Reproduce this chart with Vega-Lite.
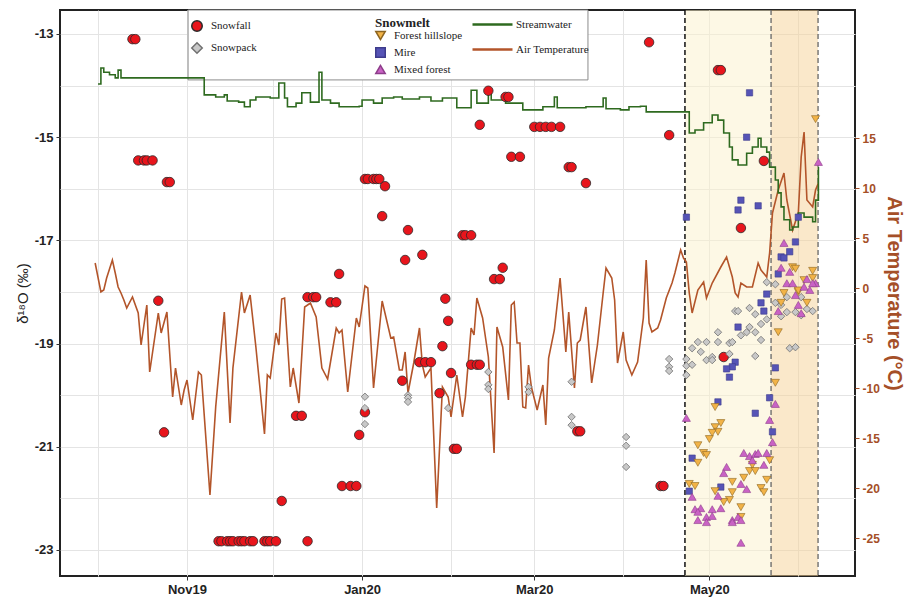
{
"$schema": "https://vega.github.io/schema/vega-lite/v6.json",
"width": 795, "height": 566,
"autosize": {"type": "none"},
"padding": {"left": 60, "top": 10, "right": 56, "bottom": 22},
"background": "white",
"config": {"font": "Liberation Sans", "view": {"stroke": "#222", "strokeWidth": 2}},
"datasets": {
"snow": [
{"d":"2019-10-13","v":-13.1,"type":"Snowfall"},{"d":"2019-10-14","v":-13.1,"type":"Snowfall"},
{"d":"2019-10-15","v":-15.45,"type":"Snowfall"},{"d":"2019-10-17","v":-15.45,"type":"Snowfall"},{"d":"2019-10-18","v":-15.45,"type":"Snowfall"},{"d":"2019-10-20","v":-15.45,"type":"Snowfall"},
{"d":"2019-10-22","v":-18.17,"type":"Snowfall"},{"d":"2019-10-24","v":-20.72,"type":"Snowfall"},
{"d":"2019-10-25","v":-15.87,"type":"Snowfall"},{"d":"2019-10-26","v":-15.87,"type":"Snowfall"},
{"d":"2019-11-12","v":-22.83,"type":"Snowfall"},{"d":"2019-11-13","v":-22.83,"type":"Snowfall"},{"d":"2019-11-15","v":-22.83,"type":"Snowfall"},{"d":"2019-11-16","v":-22.83,"type":"Snowfall"},{"d":"2019-11-17","v":-22.83,"type":"Snowfall"},{"d":"2019-11-19","v":-22.83,"type":"Snowfall"},{"d":"2019-11-20","v":-22.83,"type":"Snowfall"},{"d":"2019-11-21","v":-22.83,"type":"Snowfall"},{"d":"2019-11-23","v":-22.83,"type":"Snowfall"},{"d":"2019-11-24","v":-22.83,"type":"Snowfall"},{"d":"2019-11-28","v":-22.83,"type":"Snowfall"},{"d":"2019-11-29","v":-22.83,"type":"Snowfall"},{"d":"2019-11-30","v":-22.83,"type":"Snowfall"},{"d":"2019-12-02","v":-22.83,"type":"Snowfall"},{"d":"2019-12-13","v":-22.83,"type":"Snowfall"},
{"d":"2019-12-04","v":-22.05,"type":"Snowfall"},
{"d":"2019-12-09","v":-20.4,"type":"Snowfall"},{"d":"2019-12-11","v":-20.4,"type":"Snowfall"},
{"d":"2019-12-13","v":-18.1,"type":"Snowfall"},{"d":"2019-12-15","v":-18.1,"type":"Snowfall"},{"d":"2019-12-16","v":-18.1,"type":"Snowfall"},
{"d":"2019-12-21","v":-18.2,"type":"Snowfall"},{"d":"2019-12-23","v":-18.2,"type":"Snowfall"},
{"d":"2019-12-24","v":-17.65,"type":"Snowfall"},
{"d":"2019-12-25","v":-21.76,"type":"Snowfall"},{"d":"2019-12-28","v":-21.76,"type":"Snowfall"},{"d":"2019-12-30","v":-21.76,"type":"Snowfall"},
{"d":"2019-12-31","v":-20.77,"type":"Snowfall"},{"d":"2020-01-02","v":-20.33,"type":"Snowfall"},
{"d":"2020-01-02","v":-15.81,"type":"Snowfall"},{"d":"2020-01-03","v":-15.81,"type":"Snowfall"},{"d":"2020-01-05","v":-15.81,"type":"Snowfall"},{"d":"2020-01-06","v":-15.81,"type":"Snowfall"},{"d":"2020-01-07","v":-15.81,"type":"Snowfall"},
{"d":"2020-01-09","v":-15.95,"type":"Snowfall"},{"d":"2020-01-08","v":-16.53,"type":"Snowfall"},
{"d":"2020-01-15","v":-19.72,"type":"Snowfall"},{"d":"2020-01-16","v":-17.38,"type":"Snowfall"},{"d":"2020-01-17","v":-16.8,"type":"Snowfall"},
{"d":"2020-01-21","v":-19.36,"type":"Snowfall"},{"d":"2020-01-22","v":-17.28,"type":"Snowfall"},{"d":"2020-01-23","v":-19.36,"type":"Snowfall"},{"d":"2020-01-25","v":-19.36,"type":"Snowfall"},
{"d":"2020-01-28","v":-19.96,"type":"Snowfall"},{"d":"2020-01-29","v":-19.05,"type":"Snowfall"},{"d":"2020-01-30","v":-18.13,"type":"Snowfall"},{"d":"2020-01-31","v":-18.56,"type":"Snowfall"},
{"d":"2020-02-01","v":-19.57,"type":"Snowfall"},{"d":"2020-02-02","v":-21.04,"type":"Snowfall"},{"d":"2020-02-03","v":-21.04,"type":"Snowfall"},
{"d":"2020-02-05","v":-16.9,"type":"Snowfall"},{"d":"2020-02-06","v":-16.9,"type":"Snowfall"},{"d":"2020-02-08","v":-16.9,"type":"Snowfall"},
{"d":"2020-02-08","v":-19.41,"type":"Snowfall"},{"d":"2020-02-10","v":-19.41,"type":"Snowfall"},{"d":"2020-02-11","v":-19.41,"type":"Snowfall"},
{"d":"2020-02-11","v":-14.76,"type":"Snowfall"},{"d":"2020-02-14","v":-14.1,"type":"Snowfall"},
{"d":"2020-02-16","v":-17.75,"type":"Snowfall"},{"d":"2020-02-18","v":-17.75,"type":"Snowfall"},{"d":"2020-02-19","v":-17.53,"type":"Snowfall"},
{"d":"2020-02-20","v":-14.22,"type":"Snowfall"},{"d":"2020-02-21","v":-14.22,"type":"Snowfall"},
{"d":"2020-02-22","v":-15.38,"type":"Snowfall"},{"d":"2020-02-25","v":-15.38,"type":"Snowfall"},
{"d":"2020-03-01","v":-14.8,"type":"Snowfall"},{"d":"2020-03-03","v":-14.8,"type":"Snowfall"},{"d":"2020-03-05","v":-14.8,"type":"Snowfall"},{"d":"2020-03-07","v":-14.8,"type":"Snowfall"},{"d":"2020-03-10","v":-14.8,"type":"Snowfall"},
{"d":"2020-03-13","v":-15.58,"type":"Snowfall"},{"d":"2020-03-14","v":-15.58,"type":"Snowfall"},
{"d":"2020-03-16","v":-20.7,"type":"Snowfall"},{"d":"2020-03-17","v":-20.7,"type":"Snowfall"},
{"d":"2020-03-19","v":-15.89,"type":"Snowfall"},{"d":"2020-04-10","v":-13.16,"type":"Snowfall"},
{"d":"2020-04-14","v":-21.76,"type":"Snowfall"},{"d":"2020-04-15","v":-21.76,"type":"Snowfall"},
{"d":"2020-04-17","v":-14.96,"type":"Snowfall"},
{"d":"2020-05-04","v":-13.7,"type":"Snowfall"},{"d":"2020-05-05","v":-13.7,"type":"Snowfall"},
{"d":"2020-05-06","v":-19.26,"type":"Snowfall"},{"d":"2020-05-12","v":-16.76,"type":"Snowfall"},{"d":"2020-05-20","v":-15.46,"type":"Snowfall"},
{"d":"2020-01-02","v":-20.03,"type":"Snowpack"},{"d":"2020-01-02","v":-20.25,"type":"Snowpack"},{"d":"2020-01-02","v":-20.56,"type":"Snowpack"},
{"d":"2020-01-17","v":-20.0,"type":"Snowpack"},{"d":"2020-01-17","v":-20.05,"type":"Snowpack"},{"d":"2020-01-17","v":-20.13,"type":"Snowpack"},
{"d":"2020-01-31","v":-20.25,"type":"Snowpack"},
{"d":"2020-02-14","v":-19.55,"type":"Snowpack"},{"d":"2020-02-14","v":-19.8,"type":"Snowpack"},{"d":"2020-02-14","v":-19.88,"type":"Snowpack"},
{"d":"2020-02-28","v":-19.84,"type":"Snowpack"},{"d":"2020-02-28","v":-19.94,"type":"Snowpack"},
{"d":"2020-03-14","v":-19.74,"type":"Snowpack"},{"d":"2020-03-14","v":-20.42,"type":"Snowpack"},{"d":"2020-03-14","v":-20.58,"type":"Snowpack"},
{"d":"2020-04-02","v":-20.81,"type":"Snowpack"},{"d":"2020-04-02","v":-20.98,"type":"Snowpack"},{"d":"2020-04-02","v":-21.39,"type":"Snowpack"},
{"d":"2020-04-17","v":-19.3,"type":"Snowpack"},{"d":"2020-04-17","v":-19.45,"type":"Snowpack"},{"d":"2020-04-17","v":-19.53,"type":"Snowpack"},
{"d":"2020-04-23","v":-19.3,"type":"Snowpack"},{"d":"2020-04-23","v":-19.43,"type":"Snowpack"},{"d":"2020-04-23","v":-19.61,"type":"Snowpack"},
{"d":"2020-04-25","v":-19.41,"type":"Snowpack"},{"d":"2020-04-25","v":-19.09,"type":"Snowpack"},{"d":"2020-04-27","v":-18.97,"type":"Snowpack"},{"d":"2020-04-28","v":-19.16,"type":"Snowpack"},
{"d":"2020-04-30","v":-18.97,"type":"Snowpack"},{"d":"2020-04-30","v":-19.32,"type":"Snowpack"},{"d":"2020-05-02","v":-19.26,"type":"Snowpack"},{"d":"2020-05-02","v":-19.32,"type":"Snowpack"},
{"d":"2020-05-04","v":-18.78,"type":"Snowpack"},{"d":"2020-05-04","v":-18.97,"type":"Snowpack"},{"d":"2020-05-08","v":-18.99,"type":"Snowpack"},{"d":"2020-05-08","v":-19.2,"type":"Snowpack"},
{"d":"2020-05-09","v":-18.97,"type":"Snowpack"},{"d":"2020-05-10","v":-18.37,"type":"Snowpack"},{"d":"2020-05-11","v":-18.37,"type":"Snowpack"},{"d":"2020-05-12","v":-18.84,"type":"Snowpack"},
{"d":"2020-05-14","v":-18.78,"type":"Snowpack"},{"d":"2020-05-15","v":-18.31,"type":"Snowpack"},{"d":"2020-05-15","v":-18.68,"type":"Snowpack"},
{"d":"2020-05-17","v":-18.78,"type":"Snowpack"},{"d":"2020-05-17","v":-18.43,"type":"Snowpack"},{"d":"2020-05-17","v":-19.24,"type":"Snowpack"},
{"d":"2020-05-19","v":-18.62,"type":"Snowpack"},{"d":"2020-05-19","v":-18.93,"type":"Snowpack"},{"d":"2020-05-21","v":-18.53,"type":"Snowpack"},{"d":"2020-05-21","v":-17.81,"type":"Snowpack"},
{"d":"2020-05-24","v":-17.85,"type":"Snowpack"},{"d":"2020-05-24","v":-18.21,"type":"Snowpack"},{"d":"2020-05-26","v":-18.25,"type":"Snowpack"},{"d":"2020-05-26","v":-18.47,"type":"Snowpack"},
{"d":"2020-05-28","v":-18.39,"type":"Snowpack"},{"d":"2020-05-28","v":-18.1,"type":"Snowpack"},{"d":"2020-05-29","v":-19.09,"type":"Snowpack"},
{"d":"2020-05-31","v":-19.07,"type":"Snowpack"},{"d":"2020-05-31","v":-18.39,"type":"Snowpack"},{"d":"2020-06-02","v":-18.45,"type":"Snowpack"},{"d":"2020-06-02","v":-18.1,"type":"Snowpack"},
{"d":"2020-06-04","v":-18.33,"type":"Snowpack"},{"d":"2020-06-06","v":-18.37,"type":"Snowpack"}
],
"melt": [
{"d":"2020-05-15","v":-14.14,"type":"Mire"},{"d":"2020-05-14","v":-15.0,"type":"Mire"},{"d":"2020-05-12","v":-16.22,"type":"Mire"},{"d":"2020-05-11","v":-16.41,"type":"Mire"},
{"d":"2020-05-18","v":-16.33,"type":"Mire"},{"d":"2020-04-23","v":-16.55,"type":"Mire"},{"d":"2020-06-01","v":-16.55,"type":"Mire"},{"d":"2020-05-31","v":-17.03,"type":"Mire"},
{"d":"2020-05-29","v":-17.22,"type":"Mire"},{"d":"2020-05-26","v":-17.32,"type":"Mire"},{"d":"2020-05-27","v":-17.34,"type":"Mire"},{"d":"2020-05-25","v":-17.65,"type":"Mire"},
{"d":"2020-05-21","v":-18.04,"type":"Mire"},{"d":"2020-05-19","v":-18.21,"type":"Mire"},{"d":"2020-05-20","v":-18.37,"type":"Mire"},{"d":"2020-05-11","v":-18.68,"type":"Mire"},
{"d":"2020-05-10","v":-19.36,"type":"Mire"},{"d":"2020-05-09","v":-19.45,"type":"Mire"},{"d":"2020-05-07","v":-19.49,"type":"Mire"},{"d":"2020-05-08","v":-19.65,"type":"Mire"},
{"d":"2020-05-04","v":-20.13,"type":"Mire"},{"d":"2020-05-17","v":-20.35,"type":"Mire"},{"d":"2020-05-22","v":-20.05,"type":"Mire"},{"d":"2020-05-24","v":-19.47,"type":"Mire"},
{"d":"2020-05-23","v":-20.71,"type":"Mire"},{"d":"2020-04-25","v":-21.22,"type":"Mire"},{"d":"2020-05-05","v":-21.78,"type":"Mire"},{"d":"2020-04-24","v":-21.86,"type":"Mire"},
{"d":"2020-06-07","v":-14.65,"type":"Forest hillslope"},{"d":"2020-05-30","v":-17.52,"type":"Forest hillslope"},{"d":"2020-05-31","v":-17.55,"type":"Forest hillslope"},
{"d":"2020-05-27","v":-18.02,"type":"Forest hillslope"},{"d":"2020-06-01","v":-18.0,"type":"Forest hillslope"},{"d":"2020-06-03","v":-17.77,"type":"Forest hillslope"},
{"d":"2020-06-06","v":-17.59,"type":"Forest hillslope"},{"d":"2020-06-06","v":-17.73,"type":"Forest hillslope"},{"d":"2020-05-26","v":-18.21,"type":"Forest hillslope"},
{"d":"2020-06-04","v":-18.21,"type":"Forest hillslope"},{"d":"2020-06-01","v":-17.97,"type":"Forest hillslope"},{"d":"2020-05-25","v":-18.78,"type":"Forest hillslope"},
{"d":"2020-05-24","v":-19.76,"type":"Forest hillslope"},{"d":"2020-05-22","v":-21.26,"type":"Forest hillslope"},{"d":"2020-05-03","v":-20.23,"type":"Forest hillslope"},
{"d":"2020-05-05","v":-20.54,"type":"Forest hillslope"},{"d":"2020-05-03","v":-20.62,"type":"Forest hillslope"},{"d":"2020-05-04","v":-20.71,"type":"Forest hillslope"},
{"d":"2020-05-02","v":-20.73,"type":"Forest hillslope"},{"d":"2020-05-01","v":-20.85,"type":"Forest hillslope"},{"d":"2020-04-27","v":-20.97,"type":"Forest hillslope"},
{"d":"2020-04-29","v":-21.12,"type":"Forest hillslope"},{"d":"2020-04-30","v":-21.16,"type":"Forest hillslope"},{"d":"2020-04-27","v":-21.31,"type":"Forest hillslope"},
{"d":"2020-04-24","v":-21.72,"type":"Forest hillslope"},{"d":"2020-04-26","v":-21.76,"type":"Forest hillslope"},{"d":"2020-05-03","v":-21.86,"type":"Forest hillslope"},
{"d":"2020-05-09","v":-21.68,"type":"Forest hillslope"},{"d":"2020-05-08","v":-22.03,"type":"Forest hillslope"},{"d":"2020-05-06","v":-22.07,"type":"Forest hillslope"},
{"d":"2020-05-09","v":-21.88,"type":"Forest hillslope"},{"d":"2020-05-12","v":-22.17,"type":"Forest hillslope"},{"d":"2020-05-12","v":-22.36,"type":"Forest hillslope"},
{"d":"2020-05-15","v":-21.47,"type":"Forest hillslope"},{"d":"2020-05-16","v":-21.35,"type":"Forest hillslope"},{"d":"2020-05-17","v":-21.47,"type":"Forest hillslope"},
{"d":"2020-05-21","v":-21.64,"type":"Forest hillslope"},{"d":"2020-05-19","v":-21.8,"type":"Forest hillslope"},{"d":"2020-05-20","v":-21.88,"type":"Forest hillslope"},
{"d":"2020-05-13","v":-21.6,"type":"Forest hillslope"},
{"d":"2020-06-08","v":-15.48,"type":"Mixed forest"},{"d":"2020-05-27","v":-17.05,"type":"Mixed forest"},{"d":"2020-05-26","v":-17.53,"type":"Mixed forest"},
{"d":"2020-05-29","v":-17.61,"type":"Mixed forest"},{"d":"2020-05-28","v":-17.83,"type":"Mixed forest"},{"d":"2020-05-30","v":-17.83,"type":"Mixed forest"},
{"d":"2020-06-04","v":-17.75,"type":"Mixed forest"},{"d":"2020-06-07","v":-17.83,"type":"Mixed forest"},{"d":"2020-06-05","v":-17.96,"type":"Mixed forest"},
{"d":"2020-06-03","v":-17.9,"type":"Mixed forest"},{"d":"2020-05-31","v":-18.06,"type":"Mixed forest"},{"d":"2020-06-06","v":-17.83,"type":"Mixed forest"},
{"d":"2020-06-02","v":-18.41,"type":"Mixed forest"},{"d":"2020-06-01","v":-18.25,"type":"Mixed forest"},{"d":"2020-05-25","v":-18.37,"type":"Mixed forest"},
{"d":"2020-04-23","v":-20.44,"type":"Mixed forest"},{"d":"2020-05-24","v":-20.17,"type":"Mixed forest"},{"d":"2020-05-22","v":-20.48,"type":"Mixed forest"},
{"d":"2020-05-23","v":-20.91,"type":"Mixed forest"},{"d":"2020-05-13","v":-21.12,"type":"Mixed forest"},{"d":"2020-05-15","v":-21.18,"type":"Mixed forest"},
{"d":"2020-05-17","v":-21.14,"type":"Mixed forest"},{"d":"2020-05-18","v":-21.12,"type":"Mixed forest"},{"d":"2020-05-21","v":-21.12,"type":"Mixed forest"},
{"d":"2020-05-16","v":-21.26,"type":"Mixed forest"},{"d":"2020-05-20","v":-21.35,"type":"Mixed forest"},{"d":"2020-05-07","v":-21.39,"type":"Mixed forest"},
{"d":"2020-05-06","v":-21.51,"type":"Mixed forest"},{"d":"2020-05-12","v":-21.72,"type":"Mixed forest"},{"d":"2020-05-14","v":-21.82,"type":"Mixed forest"},
{"d":"2020-05-04","v":-21.95,"type":"Mixed forest"},{"d":"2020-04-25","v":-21.97,"type":"Mixed forest"},{"d":"2020-04-26","v":-22.21,"type":"Mixed forest"},
{"d":"2020-04-28","v":-22.19,"type":"Mixed forest"},{"d":"2020-04-27","v":-22.26,"type":"Mixed forest"},{"d":"2020-05-02","v":-22.21,"type":"Mixed forest"},
{"d":"2020-05-05","v":-22.19,"type":"Mixed forest"},{"d":"2020-04-30","v":-22.36,"type":"Mixed forest"},{"d":"2020-05-02","v":-22.34,"type":"Mixed forest"},
{"d":"2020-04-27","v":-22.42,"type":"Mixed forest"},{"d":"2020-04-30","v":-22.46,"type":"Mixed forest"},{"d":"2020-05-09","v":-22.42,"type":"Mixed forest"},
{"d":"2020-05-11","v":-22.36,"type":"Mixed forest"},{"d":"2020-05-12","v":-22.42,"type":"Mixed forest"},{"d":"2020-05-09","v":-22.46,"type":"Mixed forest"},
{"d":"2020-05-12","v":-22.86,"type":"Mixed forest"}
],
"stream": [
{"d":"2019-10-01","v":-13.97},{"d":"2019-10-02","v":-13.66},{"d":"2019-10-03","v":-13.74},{"d":"2019-10-05","v":-13.79},{"d":"2019-10-07","v":-13.85},{"d":"2019-10-08","v":-13.7},{"d":"2019-10-09","v":-13.85},
{"d":"2019-11-07","v":-14.18},{"d":"2019-11-11","v":-14.22},{"d":"2019-11-14","v":-14.18},{"d":"2019-11-15","v":-14.3},{"d":"2019-11-19","v":-14.32},{"d":"2019-11-21","v":-14.41},{"d":"2019-11-23","v":-14.28},{"d":"2019-11-25","v":-14.22},{"d":"2019-11-30","v":-14.24},
{"d":"2019-12-03","v":-13.95},{"d":"2019-12-05","v":-14.24},{"d":"2019-12-06","v":-14.41},{"d":"2019-12-09","v":-14.34},{"d":"2019-12-11","v":-14.14},{"d":"2019-12-14","v":-14.32},{"d":"2019-12-17","v":-13.74},{"d":"2019-12-18","v":-14.28},{"d":"2019-12-21","v":-14.34},{"d":"2019-12-24","v":-14.41},{"d":"2019-12-31","v":-14.4},
{"d":"2020-01-01","v":-14.28},{"d":"2020-01-05","v":-14.34},{"d":"2020-01-08","v":-14.24},{"d":"2020-01-12","v":-14.22},{"d":"2020-01-15","v":-14.26},{"d":"2020-01-21","v":-14.22},{"d":"2020-01-25","v":-14.3},{"d":"2020-01-29","v":-14.24},
{"d":"2020-02-03","v":-14.43},{"d":"2020-02-08","v":-14.09},{"d":"2020-02-10","v":-14.34},{"d":"2020-02-14","v":-14.12},{"d":"2020-02-15","v":-14.28},{"d":"2020-02-20","v":-14.34},{"d":"2020-02-26","v":-14.47},
{"d":"2020-03-04","v":-14.41},{"d":"2020-03-08","v":-14.22},{"d":"2020-03-09","v":-14.43},{"d":"2020-03-16","v":-14.43},{"d":"2020-03-19","v":-14.41},{"d":"2020-03-25","v":-14.24},{"d":"2020-03-26","v":-14.45},{"d":"2020-03-31","v":-14.47},
{"d":"2020-04-03","v":-14.41},{"d":"2020-04-07","v":-14.4},{"d":"2020-04-09","v":-14.51},{"d":"2020-04-23","v":-14.51},{"d":"2020-04-24","v":-14.92},{"d":"2020-04-26","v":-14.86},{"d":"2020-04-29","v":-14.72},
{"d":"2020-05-02","v":-14.57},{"d":"2020-05-04","v":-14.67},{"d":"2020-05-06","v":-14.92},{"d":"2020-05-08","v":-15.19},{"d":"2020-05-09","v":-15.44},{"d":"2020-05-11","v":-15.54},{"d":"2020-05-14","v":-15.31},{"d":"2020-05-16","v":-15.19},{"d":"2020-05-18","v":-15.02},{"d":"2020-05-19","v":-15.19},{"d":"2020-05-21","v":-15.29},{"d":"2020-05-22","v":-15.58},{"d":"2020-05-24","v":-15.83},{"d":"2020-05-25","v":-16.08},{"d":"2020-05-26","v":-16.35},{"d":"2020-05-27","v":-16.6},{"d":"2020-05-29","v":-16.8},{"d":"2020-05-30","v":-16.74},
{"d":"2020-06-01","v":-16.47},{"d":"2020-06-03","v":-16.55},{"d":"2020-06-06","v":-16.64},{"d":"2020-06-07","v":-16.22},{"d":"2020-06-08","v":-15.58}
],
"temp": [
{"d":"2019-09-30","t":2.5},{"d":"2019-10-02","t":-0.4},{"d":"2019-10-03","t":-0.2},{"d":"2019-10-04","t":1.0},{"d":"2019-10-06","t":2.8},{"d":"2019-10-07","t":1.5},{"d":"2019-10-08","t":0.1},{"d":"2019-10-09","t":-0.5},{"d":"2019-10-10","t":-1.2},{"d":"2019-10-11","t":-2.0},{"d":"2019-10-13","t":-0.9},{"d":"2019-10-15","t":-2.5},{"d":"2019-10-16","t":-5.7},{"d":"2019-10-18","t":-1.7},{"d":"2019-10-19","t":-8.4},{"d":"2019-10-22","t":-2.5},{"d":"2019-10-23","t":-4.5},{"d":"2019-10-25","t":-2.4},{"d":"2019-10-27","t":-10.9},{"d":"2019-10-28","t":-8.0},{"d":"2019-10-30","t":-11.7},{"d":"2019-10-31","t":-10.2},
{"d":"2019-11-01","t":-9.2},{"d":"2019-11-03","t":-13.2},{"d":"2019-11-05","t":-8.4},{"d":"2019-11-06","t":-8.7},{"d":"2019-11-09","t":-20.7},{"d":"2019-11-11","t":-11.9},{"d":"2019-11-14","t":-2.4},{"d":"2019-11-16","t":-13.5},{"d":"2019-11-17","t":-8.0},{"d":"2019-11-20","t":-0.4},{"d":"2019-11-21","t":-2.5},{"d":"2019-11-23","t":-0.7},{"d":"2019-11-25","t":-5.9},{"d":"2019-11-28","t":-14.6},{"d":"2019-11-29","t":-8.7},{"d":"2019-11-30","t":-9.0},
{"d":"2019-12-02","t":-4.5},{"d":"2019-12-03","t":-5.7},{"d":"2019-12-04","t":-1.1},{"d":"2019-12-05","t":-1.0},{"d":"2019-12-07","t":-9.9},{"d":"2019-12-08","t":-8.0},{"d":"2019-12-10","t":-11.5},{"d":"2019-12-12","t":-1.9},{"d":"2019-12-14","t":-1.5},{"d":"2019-12-16","t":-2.9},{"d":"2019-12-18","t":-8.0},{"d":"2019-12-20","t":-9.1},{"d":"2019-12-21","t":-7.4},{"d":"2019-12-23","t":-4.0},{"d":"2019-12-24","t":-4.5},{"d":"2019-12-25","t":-4.2},{"d":"2019-12-27","t":-10.4},{"d":"2019-12-30","t":-3.0},{"d":"2019-12-31","t":-3.9},
{"d":"2020-01-02","t":0.2},{"d":"2020-01-03","t":0.0},{"d":"2020-01-05","t":-10.0},{"d":"2020-01-08","t":-1.3},{"d":"2020-01-11","t":-5.0},{"d":"2020-01-12","t":-4.9},{"d":"2020-01-14","t":-8.2},{"d":"2020-01-15","t":-8.2},{"d":"2020-01-16","t":-6.4},{"d":"2020-01-17","t":-10.5},{"d":"2020-01-19","t":-7.5},{"d":"2020-01-21","t":-4.0},{"d":"2020-01-22","t":-7.7},{"d":"2020-01-23","t":-8.9},{"d":"2020-01-25","t":-8.0},{"d":"2020-01-27","t":-22.0},{"d":"2020-01-29","t":-9.9},{"d":"2020-01-31","t":-10.9},
{"d":"2020-02-01","t":-12.9},{"d":"2020-02-03","t":-8.7},{"d":"2020-02-05","t":-12.9},{"d":"2020-02-06","t":-10.9},{"d":"2020-02-08","t":-4.0},{"d":"2020-02-09","t":-4.7},{"d":"2020-02-10","t":-1.0},{"d":"2020-02-12","t":-3.0},{"d":"2020-02-14","t":-6.9},{"d":"2020-02-16","t":-16.5},{"d":"2020-02-17","t":-3.9},{"d":"2020-02-19","t":-5.9},{"d":"2020-02-21","t":-11.2},{"d":"2020-02-22","t":-1.7},{"d":"2020-02-23","t":-1.4},{"d":"2020-02-24","t":-5.5},{"d":"2020-02-25","t":-5.5},{"d":"2020-02-26","t":-11.9},{"d":"2020-02-27","t":-12.0},{"d":"2020-02-28","t":-7.7},{"d":"2020-02-29","t":-9.9},
{"d":"2020-03-02","t":-12.2},{"d":"2020-03-04","t":-9.7},{"d":"2020-03-05","t":-13.7},{"d":"2020-03-06","t":-7.0},{"d":"2020-03-08","t":-4.2},{"d":"2020-03-10","t":1.0},{"d":"2020-03-12","t":-6.4},{"d":"2020-03-13","t":-2.4},{"d":"2020-03-15","t":-10.0},{"d":"2020-03-16","t":-5.5},{"d":"2020-03-17","t":-5.2},{"d":"2020-03-19","t":-1.9},{"d":"2020-03-21","t":-9.5},{"d":"2020-03-23","t":-5.7},{"d":"2020-03-25","t":-0.5},{"d":"2020-03-26","t":2.0},{"d":"2020-03-28","t":1.0},{"d":"2020-03-29","t":-1.2},{"d":"2020-03-30","t":-7.5},
{"d":"2020-04-01","t":-4.4},{"d":"2020-04-02","t":-7.2},{"d":"2020-04-04","t":-8.7},{"d":"2020-04-06","t":-7.4},{"d":"2020-04-08","t":-3.0},{"d":"2020-04-09","t":2.8},{"d":"2020-04-10","t":-3.5},{"d":"2020-04-11","t":-4.4},{"d":"2020-04-13","t":-4.0},{"d":"2020-04-14","t":-3.2},{"d":"2020-04-16","t":-1.0},{"d":"2020-04-18","t":0.5},{"d":"2020-04-19","t":1.5},{"d":"2020-04-21","t":3.8},{"d":"2020-04-22","t":3.0},{"d":"2020-04-23","t":2.6},{"d":"2020-04-24","t":-0.5},{"d":"2020-04-25","t":-2.5},{"d":"2020-04-27","t":-0.2},{"d":"2020-04-29","t":0.6},{"d":"2020-04-30","t":-1.0},
{"d":"2020-05-02","t":0.5},{"d":"2020-05-05","t":2.1},{"d":"2020-05-07","t":3.1},{"d":"2020-05-09","t":1.1},{"d":"2020-05-10","t":-0.5},{"d":"2020-05-11","t":-0.9},{"d":"2020-05-12","t":0.5},{"d":"2020-05-14","t":0.1},{"d":"2020-05-16","t":0.1},{"d":"2020-05-18","t":2.5},{"d":"2020-05-19","t":1.8},{"d":"2020-05-21","t":1.1},{"d":"2020-05-22","t":3.5},{"d":"2020-05-23","t":7.5},{"d":"2020-05-25","t":9.8},{"d":"2020-05-27","t":11.5},{"d":"2020-05-28","t":8.8},{"d":"2020-05-30","t":5.8},
{"d":"2020-06-01","t":7.5},{"d":"2020-06-02","t":13.1},{"d":"2020-06-03","t":15.6},{"d":"2020-06-04","t":8.8},{"d":"2020-06-06","t":8.1},{"d":"2020-06-07","t":9.8},{"d":"2020-06-08","t":10.5}
]
},
"layer": [
{
"data": {"values": [{}]},
"layer": [
{"mark": {"type": "rect", "fill": "#fcf1cc", "opacity": 0.5},
 "encoding": {"x": {"datum": {"year": 2020, "month": 4, "date": 22, "hours": 12, "utc": true}, "type": "temporal", "scale": {"type": "utc", "domain": [{"year": 2019, "month": 9, "date": 17, "hours": 18, "utc": true}, {"year": 2020, "month": 6, "date": 20, "hours": 18, "utc": true}]}},
  "x2": {"datum": {"year": 2020, "month": 5, "date": 22, "hours": 12, "utc": true}}}},
{"mark": {"type": "rect", "fill": "#f6d296", "opacity": 0.5},
 "encoding": {"x": {"datum": {"year": 2020, "month": 5, "date": 22, "hours": 12, "utc": true}, "type": "temporal"},
  "x2": {"datum": {"year": 2020, "month": 6, "date": 7, "hours": 21, "utc": true}}}},
{"mark": {"type": "rule", "stroke": "#111", "strokeWidth": 1.5, "strokeDash": [5, 3]},
 "encoding": {"x": {"datum": {"year": 2020, "month": 4, "date": 22, "hours": 12, "utc": true}, "type": "temporal"}}},
{"mark": {"type": "rule", "stroke": "#666", "strokeWidth": 1.3, "strokeDash": [5, 3]},
 "encoding": {"x": {"datum": {"year": 2020, "month": 5, "date": 22, "hours": 12, "utc": true}, "type": "temporal"}}},
{"mark": {"type": "rule", "stroke": "#666", "strokeWidth": 1.3, "strokeDash": [5, 3]},
 "encoding": {"x": {"datum": {"year": 2020, "month": 6, "date": 7, "hours": 21, "utc": true}, "type": "temporal"}}}
]
},
{
"data": {"name": "temp"},
"mark": {"type": "line", "color": "#b3552a", "strokeWidth": 1.6},
"encoding": {
 "x": {"field": "d", "type": "temporal"},
 "y": {"field": "t", "type": "quantitative", "scale": {"domain": [-28.8, 27.8], "nice": false, "zero": false},
  "axis": {"orient": "right", "values": [-25, -20, -15, -10, -5, 0, 5, 10, 15], "labelExpr": "'' + datum.value", "title": "Air Temperature (°C)", "titleColor": "#a54f28", "titleFontSize": 20, "titleFontWeight": "bold", "titlePadding": 4, "grid": false, "domain": false, "tickSize": 4, "tickColor": "#a54f28", "labelColor": "#a54f28", "labelFontSize": 12, "labelFontWeight": "bold", "labelPadding": 3}}
}
},
{
"resolve": {"scale": {"fill": "independent", "shape": "independent", "stroke": "independent", "color": "independent"}},
"layer": [
{"data": {"values": [{}]},
 "mark": {"type": "rect", "fill": "white", "stroke": "#8c8c8c", "strokeWidth": 1},
 "encoding": {"x": {"datum": {"year": 2019, "month": 11, "date": 1, "hours": 9, "utc": true}, "type": "temporal"},
  "x2": {"datum": {"year": 2020, "month": 3, "date": 19, "hours": 17, "utc": true}},
  "y": {"datum": -12.535, "type": "quantitative"}, "y2": {"datum": -13.89}}},
{"data": {"name": "stream"},
 "transform": [{"calculate": "'Streamwater'", "as": "series"}],
 "mark": {"type": "line", "interpolate": "step-after", "strokeWidth": 1.6},
 "encoding": {
  "x": {"field": "d", "type": "temporal",
   "axis": {"values": [{"year": 2019, "month": 10, "date": 1, "utc": true}, {"year": 2019, "month": 11, "date": 1, "utc": true}, {"year": 2019, "month": 12, "date": 1, "utc": true}, {"year": 2020, "month": 1, "date": 1, "utc": true}, {"year": 2020, "month": 2, "date": 1, "utc": true}, {"year": 2020, "month": 3, "date": 1, "utc": true}, {"year": 2020, "month": 4, "date": 1, "utc": true}, {"year": 2020, "month": 5, "date": 1, "utc": true}, {"year": 2020, "month": 6, "date": 1, "utc": true}],
    "labelExpr": "utcmonth(datum.value) % 2 == 0 ? utcFormat(datum.value, '%b%y') : ''",
    "title": null, "grid": true, "gridColor": "#e4e4e4", "domain": false, "tickSize": 4, "tickColor": "#333",
    "tickOpacity": {"condition": {"test": "utcmonth(datum.value) % 2 == 1", "value": 0}, "value": 1},
    "labelFontSize": 13, "labelFontWeight": "bold", "labelColor": "#222", "labelPadding": 3, "labelFlush": false, "labelOverlap": false}},
  "y": {"field": "v", "type": "quantitative", "scale": {"domain": [-23.504, -12.535], "nice": false, "zero": false},
   "axis": {"values": [-23, -22, -21, -20, -19, -18, -17, -16, -15, -14, -13], "labelExpr": "datum.value % 2 != 0 ? '' + datum.value : ''", "title": "δ¹⁸O (‰)", "titleFontSize": 15, "titleFontWeight": "normal", "titleColor": "#222", "titlePadding": 4, "grid": true, "gridColor": "#e4e4e4", "domain": false, "tickSize": 4, "tickColor": "#333", "tickOpacity": {"condition": {"test": "datum.value % 2 == 0", "value": 0}, "value": 1}, "labelFontSize": 13, "labelFontWeight": "bold", "labelColor": "#222", "labelPadding": 3}},
  "color": {"field": "series", "type": "nominal", "scale": {"domain": ["Streamwater", "Air Temperature"], "range": ["#2e6a1f", "#b3552a"]},
   "legend": {"orient": "none", "legendX": 411, "legendY": 3, "title": null, "padding": 0, "rowPadding": 8, "symbolType": "M-2,0L2,0", "symbolSize": 400, "symbolStrokeWidth": 2.5, "symbolOffset": 10, "labelOffset": 12, "labelFont": "Liberation Serif", "labelFontSize": 11, "labelColor": "#222"}}
 }},
{"data": {"name": "snow"},
 "mark": {"type": "point", "filled": true, "strokeWidth": 0.8, "opacity": 1},
 "encoding": {
  "x": {"field": "d", "type": "temporal"},
  "y": {"field": "v", "type": "quantitative"},
  "shape": {"field": "type", "type": "nominal", "scale": {"domain": ["Snowfall", "Snowpack"], "range": ["circle", "diamond"]},
   "legend": {"orient": "none", "legendX": 131, "legendY": 10, "title": null, "padding": 0, "rowPadding": 4, "symbolSize": 110, "labelOffset": 8, "labelFont": "Liberation Serif", "labelFontSize": 11, "labelColor": "#222"}},
  "fill": {"field": "type", "type": "nominal", "scale": {"domain": ["Snowfall", "Snowpack"], "range": ["#e8151c", "#c8c8c8"]},
   "legend": {"orient": "none", "legendX": 131, "legendY": 10, "title": null, "padding": 0, "rowPadding": 4, "symbolSize": 110, "labelOffset": 8, "labelFont": "Liberation Serif", "labelFontSize": 11, "labelColor": "#222"}},
  "stroke": {"field": "type", "type": "nominal", "scale": {"domain": ["Snowfall", "Snowpack"], "range": ["#2a2a2a", "#707070"]},
   "legend": {"orient": "none", "legendX": 131, "legendY": 10, "title": null, "padding": 0, "rowPadding": 4, "symbolSize": 110, "labelOffset": 8, "labelFont": "Liberation Serif", "labelFontSize": 11, "labelColor": "#222"}},
  "size": {"condition": {"test": "datum.type == 'Snowfall'", "value": 90}, "value": 55}
 }},
{"data": {"name": "melt"},
 "mark": {"type": "point", "filled": true, "strokeWidth": 0.6, "opacity": 1},
 "encoding": {
  "x": {"field": "d", "type": "temporal"},
  "y": {"field": "v", "type": "quantitative"},
  "shape": {"field": "type", "type": "nominal", "scale": {"domain": ["Forest hillslope", "Mire", "Mixed forest"], "range": ["triangle-down", "square", "triangle-up"]},
   "legend": {"orient": "none", "legendX": 315, "legendY": 7, "title": "Snowmelt", "titleFont": "Liberation Serif", "titleFontSize": 13, "titleFontWeight": "bold", "titleColor": "#222", "titlePadding": 0, "padding": 0, "rowPadding": 1, "symbolSize": 90, "labelOffset": 8, "labelFont": "Liberation Serif", "labelFontSize": 11, "labelColor": "#222"}},
  "fill": {"field": "type", "type": "nominal", "scale": {"domain": ["Forest hillslope", "Mire", "Mixed forest"], "range": ["#f2b347", "#5654b6", "#c962c4"]},
   "legend": {"orient": "none", "legendX": 315, "legendY": 7, "title": "Snowmelt", "titleFont": "Liberation Serif", "titleFontSize": 13, "titleFontWeight": "bold", "titleColor": "#222", "titlePadding": 0, "padding": 0, "rowPadding": 1, "symbolSize": 90, "labelOffset": 8, "labelFont": "Liberation Serif", "labelFontSize": 11, "labelColor": "#222"}},
  "stroke": {"field": "type", "type": "nominal", "scale": {"domain": ["Forest hillslope", "Mire", "Mixed forest"], "range": ["#8c6420", "#3e3c8c", "#8d3d8a"]},
   "legend": {"orient": "none", "legendX": 315, "legendY": 7, "title": "Snowmelt", "titleFont": "Liberation Serif", "titleFontSize": 13, "titleFontWeight": "bold", "titleColor": "#222", "titlePadding": 0, "padding": 0, "rowPadding": 1, "symbolSize": 90, "labelOffset": 8, "labelFont": "Liberation Serif", "labelFontSize": 11, "labelColor": "#222"}},
  "size": {"condition": {"test": "datum.type == 'Mire'", "value": 40}, "value": 65}
 }}
]
}
],
"resolve": {"scale": {"y": "independent"}}
}
